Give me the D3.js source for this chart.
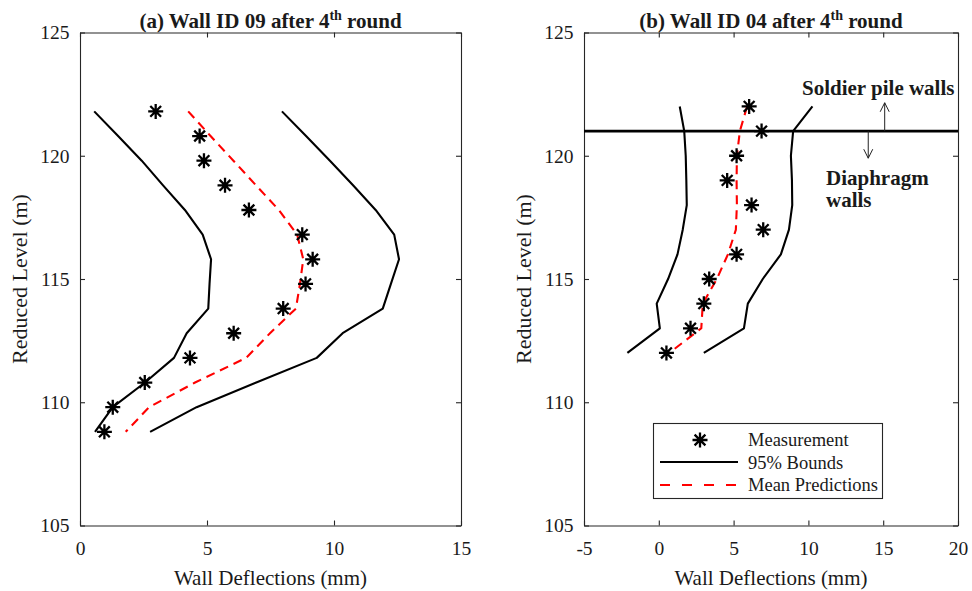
<!DOCTYPE html>
<html>
<head>
<meta charset="utf-8">
<script src="https://cdn.jsdelivr.net/npm/d3@7"></script>
<style>
  html, body { margin: 0; padding: 0; background: #fff; }
  svg { display: block; }
  text { font-family: "Liberation Serif", "Times New Roman", serif; fill: #1a1a1a; }
</style>
</head>
<body>
<svg id="chart" width="972" height="591"></svg>
<script>
// ---- Wall ID 09 (panel a) ----
const levelsA = [121.8, 120.8, 119.8, 118.8, 117.8, 116.8, 115.8, 114.8, 113.8, 112.8, 111.8, 110.8, 109.8, 108.8];
const measA   = [2.98, 4.71, 4.88, 5.71, 6.65, 8.75, 9.16, 8.88, 8.0, 6.05, 4.33, 2.55, 1.29, 0.96];
const lowerA  = [0.56, 1.5, 2.43, 3.27, 4.13, 4.83, 5.16, 5.10, 5.05, 4.2, 3.7, 2.56, 1.29, 0.59];
const upperA  = [7.95, 8.9, 9.84, 10.75, 11.64, 12.37, 12.56, 12.24, 11.92, 10.34, 9.32, 6.94, 4.59, 2.76];
const meanA   = [4.26, 5.14, 6.04, 6.93, 7.83, 8.55, 8.79, 8.66, 8.5, 7.48, 6.54, 4.53, 2.72, 1.8];

// ---- Wall ID 04 (panel b) ----
const levelsB = [122, 121, 120, 119, 118, 117, 116, 115, 114, 113, 112];
const measB   = [6.04, 6.87, 5.2, 4.57, 6.2, 6.98, 5.2, 3.37, 3.01, 2.12, 0.51];
const lowerB  = [1.4, 1.7, 1.8, 1.84, 1.87, 1.6, 1.25, 0.62, -0.14, 0.07, -2.1];
const upperB  = [10.27, 8.98, 8.83, 8.9, 8.92, 8.7, 8.16, 6.95, 5.95, 5.69, 3.01];
const meanB   = [5.9, 5.42, 5.22, 5.2, 5.22, 5.15, 4.62, 3.88, 2.94, 2.84, 0.7];

// wall-type boundary in panel b
const boundaryLevel = 121;

// ticks
const yTicks  = [105, 110, 115, 120, 125];
const xTicksA = [0, 5, 10, 15];
const xTicksB = [-5, 0, 5, 10, 15, 20];

const svg = d3.select("#chart");
const axisColor = "#262626";
const plainFormat = d => String(d);   // plain hyphen for negatives

const yScale = d3.scaleLinear().domain([105, 125]).range([525.5, 32.5]);

function starPath(r) {
  const d = r * 0.72;
  return `M${-r},0L${r},0M0,${-r}L0,${r}M${-d},${-d}L${d},${d}M${-d},${d}L${d},${-d}`;
}

function drawPanel(opt) {
  const x = d3.scaleLinear().domain(opt.xDomain).range(opt.xRange);
  const y = yScale;
  const g = svg.append("g");
  const [x0, x1] = opt.xRange;
  const [yb, yt] = y.range();

  const styleAxis = sel => {
    sel.attr("font-family", null);
    sel.selectAll("path.domain").attr("stroke", axisColor).attr("stroke-width", 1.1);
    sel.selectAll(".tick line").attr("stroke", axisColor).attr("stroke-width", 1.1);
    sel.selectAll(".tick text")
      .attr("font-family", '"Liberation Serif", "Times New Roman", serif')
      .attr("font-size", 19.5).attr("fill", "#1a1a1a");
  };

  g.append("g").attr("transform", `translate(0,${yb})`)
    .call(d3.axisBottom(x).tickValues(opt.xTicks).tickFormat(plainFormat)
      .tickSizeInner(-5).tickSizeOuter(0).tickPadding(16))
    .call(styleAxis);
  g.append("g").attr("transform", `translate(0,${yt})`)
    .call(d3.axisTop(x).tickValues(opt.xTicks).tickFormat("")
      .tickSizeInner(-5).tickSizeOuter(0))
    .call(styleAxis);
  g.append("g").attr("transform", `translate(${x0},0)`)
    .call(d3.axisLeft(y).tickValues(yTicks).tickFormat(plainFormat)
      .tickSizeInner(-5).tickSizeOuter(0).tickPadding(10.5))
    .call(styleAxis);
  g.append("g").attr("transform", `translate(${x1},0)`)
    .call(d3.axisRight(y).tickValues(yTicks).tickFormat("")
      .tickSizeInner(-5).tickSizeOuter(0))
    .call(styleAxis);

  // axis labels
  g.append("text")
    .attr("x", (x0 + x1) / 2).attr("y", 585)
    .attr("text-anchor", "middle").attr("font-size", 21)
    .text("Wall Deflections (mm)");
  g.append("text")
    .attr("transform", `translate(${x0 - 53},${(yb + yt) / 2}) rotate(-90)`)
    .attr("text-anchor", "middle").attr("font-size", 22)
    .text("Reduced Level (m)");

  // title with superscript
  const t = g.append("text")
    .attr("x", (x0 + x1) / 2).attr("y", 28)
    .attr("text-anchor", "middle").attr("font-size", 21).attr("font-weight", "bold");
  t.append("tspan").text(opt.title + " 4");
  t.append("tspan").attr("dy", -8).attr("font-size", 14).text("th");
  t.append("tspan").attr("dy", 8).text(" round");

  const line = d3.line().x(d => x(d[0])).y(d => y(d[1]));
  const pairs = (xs, ys) => xs.map((v, i) => [v, ys[i]]);

  const marks = g.append("g");
  marks.append("path").datum(pairs(opt.lower, opt.levels))
    .attr("d", line).attr("fill", "none").attr("stroke", "#000").attr("stroke-width", 2.1)
    .attr("stroke-linejoin", "round");
  marks.append("path").datum(pairs(opt.upper, opt.levels))
    .attr("d", line).attr("fill", "none").attr("stroke", "#000").attr("stroke-width", 2.1)
    .attr("stroke-linejoin", "round");
  marks.append("path").datum(pairs(opt.mean, opt.levels))
    .attr("d", line).attr("fill", "none").attr("stroke", "#ff0000").attr("stroke-width", 2.1)
    .attr("stroke-dasharray", "9,6");
  marks.selectAll("path.star").data(pairs(opt.meas, opt.levels)).join("path")
    .attr("class", "star")
    .attr("transform", d => `translate(${x(d[0])},${y(d[1])})`)
    .attr("d", starPath(7.5))
    .attr("stroke", "#000").attr("stroke-width", 2.3).attr("fill", "none");

  return { x, y, g };
}

drawPanel({
  xDomain: [0, 15], xRange: [80, 461], xTicks: xTicksA,
  title: "(a) Wall ID 09 after",
  levels: levelsA, meas: measA, lower: lowerA, upper: upperA, mean: meanA
});

const pb = drawPanel({
  xDomain: [-5, 20], xRange: [584, 958], xTicks: xTicksB,
  title: "(b) Wall ID 04 after",
  levels: levelsB, meas: measB, lower: lowerB, upper: upperB, mean: meanB
});

// boundary between soldier pile walls and diaphragm walls
const xb = pb.x, yb = pb.y;
pb.g.append("line")
  .attr("x1", xb(-5)).attr("x2", xb(20))
  .attr("y1", yb(boundaryLevel)).attr("y2", yb(boundaryLevel))
  .attr("stroke", "#000").attr("stroke-width", 2.6);

function arrow(xv, yFrom, yTo) {
  const px = xb(xv), p0 = yb(yFrom), p1 = yb(yTo);
  const dir = p1 < p0 ? 1 : -1;
  const a = pb.g.append("g").attr("stroke", "#222").attr("stroke-width", 1).attr("fill", "none");
  a.append("line").attr("x1", px).attr("x2", px).attr("y1", p0).attr("y2", p1);
  a.append("path").attr("d", `M${px - 4.5},${p1 + dir * 9}L${px},${p1}L${px + 4.5},${p1 + dir * 9}`);
}
arrow(15.1, boundaryLevel, 122.15);
arrow(14.0, boundaryLevel, 119.9);

pb.g.append("text").attr("x", 802).attr("y", 95)
  .attr("font-size", 21).attr("font-weight", "bold").text("Soldier pile walls");
pb.g.append("text").attr("x", 826).attr("y", 185)
  .attr("font-size", 21).attr("font-weight", "bold").text("Diaphragm");
pb.g.append("text").attr("x", 826).attr("y", 207)
  .attr("font-size", 21).attr("font-weight", "bold").text("walls");

// legend
const lg = svg.append("g");
lg.append("rect").attr("x", 653.5).attr("y", 423.5).attr("width", 229).attr("height", 75)
  .attr("fill", "#fff").attr("stroke", axisColor).attr("stroke-width", 1.1);
lg.append("path").attr("transform", "translate(700,440)").attr("d", starPath(7.5))
  .attr("stroke", "#000").attr("stroke-width", 2.3).attr("fill", "none");
lg.append("line").attr("x1", 660).attr("x2", 738).attr("y1", 462).attr("y2", 462)
  .attr("stroke", "#000").attr("stroke-width", 2.1);
lg.append("line").attr("x1", 660).attr("x2", 740).attr("y1", 485).attr("y2", 485)
  .attr("stroke", "#ff0000").attr("stroke-width", 2.1).attr("stroke-dasharray", "10,12");
const legendLabels = ["Measurement", "95% Bounds", "Mean Predictions"];
lg.selectAll("text.lab").data(legendLabels).join("text")
  .attr("class", "lab")
  .attr("x", 748).attr("y", (d, i) => 446 + i * 22.5)
  .attr("font-size", 18.5).text(d => d);
</script>
</body>
</html>
